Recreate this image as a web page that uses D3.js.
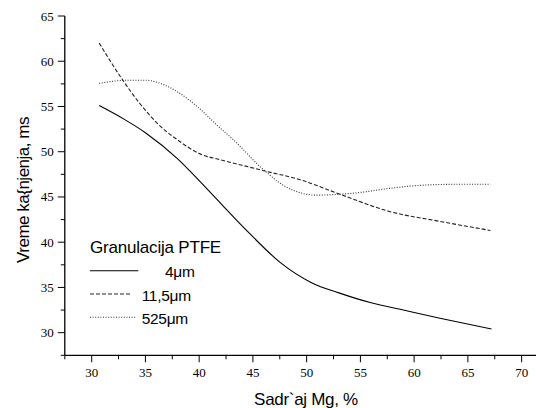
<!DOCTYPE html>
<html><head><meta charset="utf-8">
<script src="https://cdn.jsdelivr.net/npm/d3@7"></script>
<style>body{margin:0;background:#fff}svg{display:block}</style>
</head><body>
<svg id="c" width="536" height="408"></svg>
<script>
const xTicks = [30,35,40,45,50,55,60,65,70];
const yTicks = [30,35,40,45,50,55,60,65];
const seriesNames = ["4\u03bcm", "11,5\u03bcm", "525\u03bcm"];
const s4 = [[30.7,55.1],[33,53.6],[35,52.1],[38,49.2],[40,46.8],[42,44.3],[44.5,41.2],[47.5,37.8],[50.5,35.5],[53,34.4],[56,33.3],[59,32.5],[62.4,31.6],[67.2,30.4]];
const s11 = [[30.7,62.0],[32.9,57.9],[34.5,55.3],[36.4,52.8],[38,51.3],[40,49.8],[42,49.1],[44,48.5],[46,47.9],[49.4,46.9],[53.1,45.3],[57.7,43.4],[62.4,42.3],[67.1,41.3]];
const s525 = [[30.7,57.55],[33.3,57.9],[35,57.9],[36.4,57.55],[38,56.6],[40,54.8],[41.6,53.0],[43.2,51.3],[46,48.0],[48.1,46.1],[50.9,45.2],[53.1,45.3],[55,45.5],[57.7,45.95],[60.8,46.3],[64,46.4],[67.1,46.4]];

const SERIF = "'Liberation Serif', 'Times New Roman', serif";
const SANS = "'Liberation Sans', Arial, sans-serif";
const svg = d3.select("#c");
const x = d3.scaleLinear().domain([27.5,72.5]).range([64.8,548.5]);
const y = d3.scaleLinear().domain([27.5,65]).range([355.3,16]);

// axes
const xAxis = svg.append("g").attr("transform","translate(0,355.3)");
xAxis.append("line").attr("x1",x(27.5)).attr("x2",536).attr("stroke","#000").attr("stroke-width",1.3);
const xMinor = d3.range(27.5,72.6,5);
xAxis.selectAll(".xm").data(xMinor).join("line").attr("x1",d=>x(d)).attr("x2",d=>x(d)).attr("y1",0).attr("y2",4).attr("stroke","#000");
xAxis.selectAll(".xM").data(xTicks).join("line").attr("x1",d=>x(d)).attr("x2",d=>x(d)).attr("y1",0).attr("y2",7).attr("stroke","#000");
xAxis.selectAll("text").data(xTicks).join("text").attr("x",d=>x(d)).attr("y",22)
  .attr("text-anchor","middle").style("font-family",SERIF).style("font-size","13px").text(d=>d);

const yAxis = svg.append("g").attr("transform","translate(64.8,0)");
yAxis.append("line").attr("y1",y(27.5)).attr("y2",y(65)).attr("stroke","#000").attr("stroke-width",1.3);
const yMinor = d3.range(27.5,65,5);
yAxis.selectAll(".ym").data(yMinor).join("line").attr("y1",d=>y(d)).attr("y2",d=>y(d)).attr("x1",0).attr("x2",-4).attr("stroke","#000");
yAxis.selectAll(".yM").data(yTicks).join("line").attr("y1",d=>y(d)).attr("y2",d=>y(d)).attr("x1",0).attr("x2",-7).attr("stroke","#000");
yAxis.selectAll("text").data(yTicks).join("text").attr("x",-11).attr("y",d=>y(d)+4.5)
  .attr("text-anchor","end").style("font-family",SERIF).style("font-size","13px").text(d=>d);

// titles
svg.append("text").attr("x",306).attr("y",405).attr("text-anchor","middle")
  .style("font-family",SANS).style("font-size","17px").attr("letter-spacing","-0.3").text("Sadr`aj Mg, %");
svg.append("text").attr("transform","translate(29,190) rotate(-90)").attr("text-anchor","middle")
  .style("font-family",SANS).style("font-size","17px").attr("letter-spacing","-0.5").text("Vreme ka{njenja, ms");

// lines
const line = d3.line().x(d=>x(d[0])).y(d=>y(d[1])).curve(d3.curveMonotoneX);
const series = [
  {data:s4, dash:null, color:"#000"},
  {data:s11, dash:"4,2", color:"#222"},
  {data:s525, dash:"1,1.6", color:"#333"}
];
svg.selectAll(".ser").data(series).join("path").attr("d",d=>line(d.data)).attr("fill","none")
  .attr("stroke",d=>d.color).attr("stroke-width",1.1).attr("stroke-dasharray",d=>d.dash);

// legend
const lg = svg.append("g").style("font-family",SANS);
lg.append("text").attr("x",90).attr("y",253).style("font-size","17px").attr("letter-spacing","-0.2").text("Granulacija PTFE");
const legItems = [
  {y:270.7, x2:138.3, tx:165, ty:277},
  {y:294, x2:131.7, tx:141.7, ty:300.5},
  {y:317.3, x2:136.7, tx:141.7, ty:324}
];
legItems.forEach((it,i)=>{
  lg.append("line").attr("x1",90).attr("x2",it.x2).attr("y1",it.y).attr("y2",it.y)
    .attr("stroke",series[i].color).attr("stroke-width",1.1).attr("stroke-dasharray",series[i].dash);
  lg.append("text").attr("x",it.tx).attr("y",it.ty).style("font-size","15.5px").attr("letter-spacing","-0.3").text(seriesNames[i]);
});
</script>
</body></html>
